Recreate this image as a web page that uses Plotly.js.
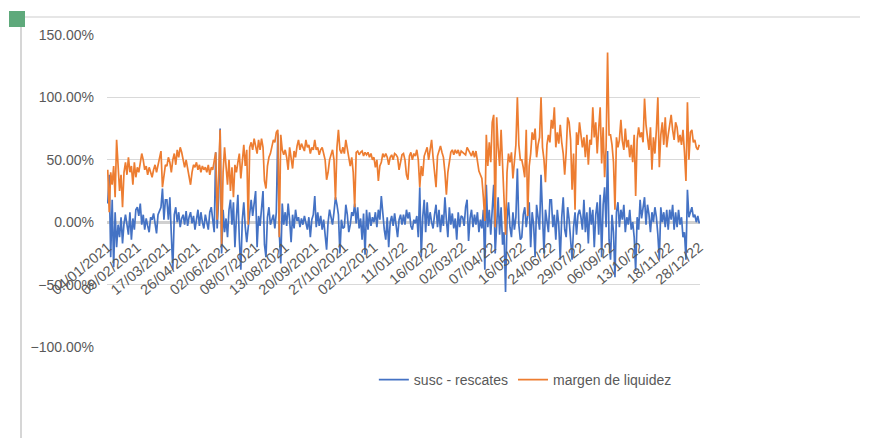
<!DOCTYPE html>
<html><head><meta charset="utf-8">
<script src="https://cdn.plot.ly/plotly-3.0.1.min.js"></script>
<style>
html,body{margin:0;padding:0;background:#fff;}
#wrap{position:relative;width:872px;height:438px;overflow:hidden;}
#chart{width:872px;height:438px;}
.deco{position:absolute;pointer-events:none;}
</style></head><body>
<div id="wrap">
<div id="chart"></div>
<div class="deco" style="left:20px;top:17px;width:2px;height:421px;background:#d6d6d6"></div>
<div class="deco" style="left:22px;top:16px;width:838px;height:2px;background:#e6e6e6"></div>
<div class="deco" style="left:9px;top:11px;width:16px;height:16px;background:#5ea97b"></div>
</div>
<script>
// tick labels (every 20th point)
var tickLabels = ["04/01/2021","09/02/2021","17/03/2021","26/04/2021","02/06/2021","08/07/2021","13/08/2021","20/09/2021","27/10/2021","02/12/2021","11/01/22","16/02/22","02/03/22","07/04/22","16/05/22","24/06/22","29/07/22","06/09/22","13/10/22","18/11/22","28/12/22"];

// margen de liquidez (%)
var margenLiquidez = [
42,8,40,30,45,20,66,42,25,38,12,40,48,38,52,40,45,30,48,36,
44,40,48,55,50,42,45,38,44,40,36,42,46,40,45,50,57,28,40,46,
45,52,48,40,50,55,46,58,52,60,56,48,44,50,42,38,30,40,46,44,
48,42,46,40,45,42,44,40,46,38,44,42,48,56,2,50,74,-18,40,60,
45,30,50,25,44,20,46,40,48,55,35,50,62,45,58,-2,60,64,58,67,
62,55,66,58,67,60,33,27,45,52,55,61,66,64,72,74,-12,70,58,54,
58,52,42,60,50,43,57,52,61,66,58,63,60,57,66,60,62,55,60,58,
66,58,60,54,58,60,55,50,34,40,50,55,58,50,18,60,74,58,55,60,
55,66,58,54,45,52,40,12,56,57,54,56,57,53,56,54,56,52,55,50,
52,44,50,33,45,48,55,52,55,52,46,52,54,50,55,54,52,42,50,54,
55,50,38,34,53,56,50,55,53,58,50,28,45,37,53,56,60,50,58,66,
52,40,28,53,58,61,56,52,40,22,40,50,56,58,54,58,55,58,53,57,
56,55,54,60,58,55,53,57,52,57,50,41,38,35,20,1,70,45,64,48,
80,86,-4,84,60,45,74,50,25,-10,40,55,48,56,35,48,62,100,62,50,
50,44,36,74,5,45,55,72,66,75,52,62,68,100,60,50,32,62,70,64,
82,75,92,60,72,63,78,64,55,38,56,84,80,66,26,55,10,72,62,80,
71,60,68,52,70,46,66,62,92,68,80,55,75,92,47,76,36,60,136,70,
70,62,48,10,68,60,66,82,65,58,75,60,66,52,62,48,70,21,66,76,
68,72,64,99,78,66,58,76,42,68,55,74,100,44,70,80,62,84,60,70,
80,86,74,66,80,76,64,70,62,74,56,33,96,50,72,74,64,66,60,58,
62];

// susc - rescates (%)
var suscRescates = [
15,38,-28,18,-36,8,-20,-2,-12,4,-17,-1,6,-2,-10,8,-14,3,-6,10,
12,5,15,-2,6,-6,3,-3,-8,4,2,7,0,-9,6,10,12,27,2,18,
18,2,20,-10,-38,6,12,0,8,-4,3,6,-2,9,-3,4,8,-1,5,-6,
4,10,-3,8,0,-5,6,-2,-6,8,12,2,-8,56,-5,20,75,-25,10,-8,
3,-12,10,18,-2,16,-20,4,22,-14,-38,2,16,-4,-16,-4,8,18,5,14,
25,-20,5,-3,10,25,-18,-28,4,12,-2,3,6,-5,8,71,-8,-33,15,-2,
8,-3,15,2,-16,6,-5,10,1,4,-4,3,-2,5,-1,-6,4,-12,2,6,
21,-4,8,-3,5,-6,2,-12,-22,0,10,4,-2,8,20,14,6,-25,2,-5,
-4,14,6,-8,-2,8,5,15,-1,12,-5,3,-14,7,-26,10,-6,8,-3,4,
0,8,-4,10,2,21,3,-6,-14,4,-20,0,5,-3,7,-4,-12,2,6,-2,
6,-2,10,3,8,-3,-6,2,-1,5,-12,28,-28,4,18,-8,16,-3,8,0,
-5,6,14,-4,10,-8,6,-3,20,2,-12,12,-2,7,-5,3,-14,8,-4,5,
4,-3,12,18,-15,3,10,-4,6,-2,8,-8,2,-5,10,-38,30,-4,10,-10,
6,30,-25,4,20,-10,12,-18,-8,-56,2,16,-4,-12,8,-6,4,43,-2,-14,
-12,6,12,-4,4,16,-20,8,-2,-28,14,6,-6,38,-2,-25,10,2,-8,18,
18,-4,6,-14,10,-2,-30,4,20,-6,-12,12,2,-14,-30,-4,8,-10,6,10,
4,-6,18,-8,8,-17,12,-2,10,-20,6,16,-10,22,-28,14,28,-4,57,-14,
-30,6,-8,-44,8,16,-4,10,2,14,-8,4,-2,10,-6,0,-12,-39,4,-6,
18,3,10,20,-2,14,6,-8,8,0,12,4,-10,-30,12,0,8,-4,10,-6,
10,2,14,-6,8,-4,10,-2,4,-12,-8,-30,26,4,8,12,4,6,0,5,
-1];

var tickStep = 20;
var xIdx = suscRescates.map(function(_, i){ return i; });
var tickVals = tickLabels.map(function(_, i){ return i * tickStep; });

var fam = '"Liberation Sans", Arial, sans-serif';
var yFont = {family: fam, size: 14, color: '#595959'};
var xFont = {family: fam, size: 14.5, color: '#595959'};
var legFont = {family: fam, size: 14, color: '#595959'};

var traces = [
  {x: xIdx, y: suscRescates, type: 'scatter', mode: 'lines', name: 'susc - rescates',
   line: {color: '#4472C4', width: 1.7}},
  {x: xIdx, y: margenLiquidez, type: 'scatter', mode: 'lines', name: 'margen de liquidez',
   line: {color: '#ED7D31', width: 1.7}}
];

var layout = {
  width: 872, height: 438,
  margin: {l: 107, r: 172, t: 35, b: 91},
  paper_bgcolor: '#ffffff', plot_bgcolor: '#ffffff',
  font: yFont,
  showlegend: true,
  legend: {orientation: 'h', x: 0.45, xanchor: 'left', y: -0.106, yanchor: 'middle',
           font: legFont, bgcolor: 'rgba(0,0,0,0)'},
  xaxis: {
    anchor: 'free', position: 0.4,
    range: [-0.5, xIdx.length - 0.5],
    tickmode: 'array', tickvals: tickVals, ticktext: tickLabels,
    tickangle: -40, ticks: '', showgrid: false, zeroline: false, showline: false,
    tickfont: xFont, ticklabelstandoff: 13, automargin: false
  },
  yaxis: {
    range: [-100, 150], dtick: 50, tick0: 0,
    tickformat: '.2f', ticksuffix: '%',
    showgrid: true, gridcolor: '#d9d9d9', gridwidth: 1,
    zeroline: true, zerolinecolor: '#d0d0d0', zerolinewidth: 3,
    showline: false, ticks: '', tickfont: yFont, ticklabelstandoff: 12, automargin: false
  }
};

Plotly.newPlot('chart', traces, layout, {displayModeBar: false, staticPlot: true});
</script>
</body></html>
